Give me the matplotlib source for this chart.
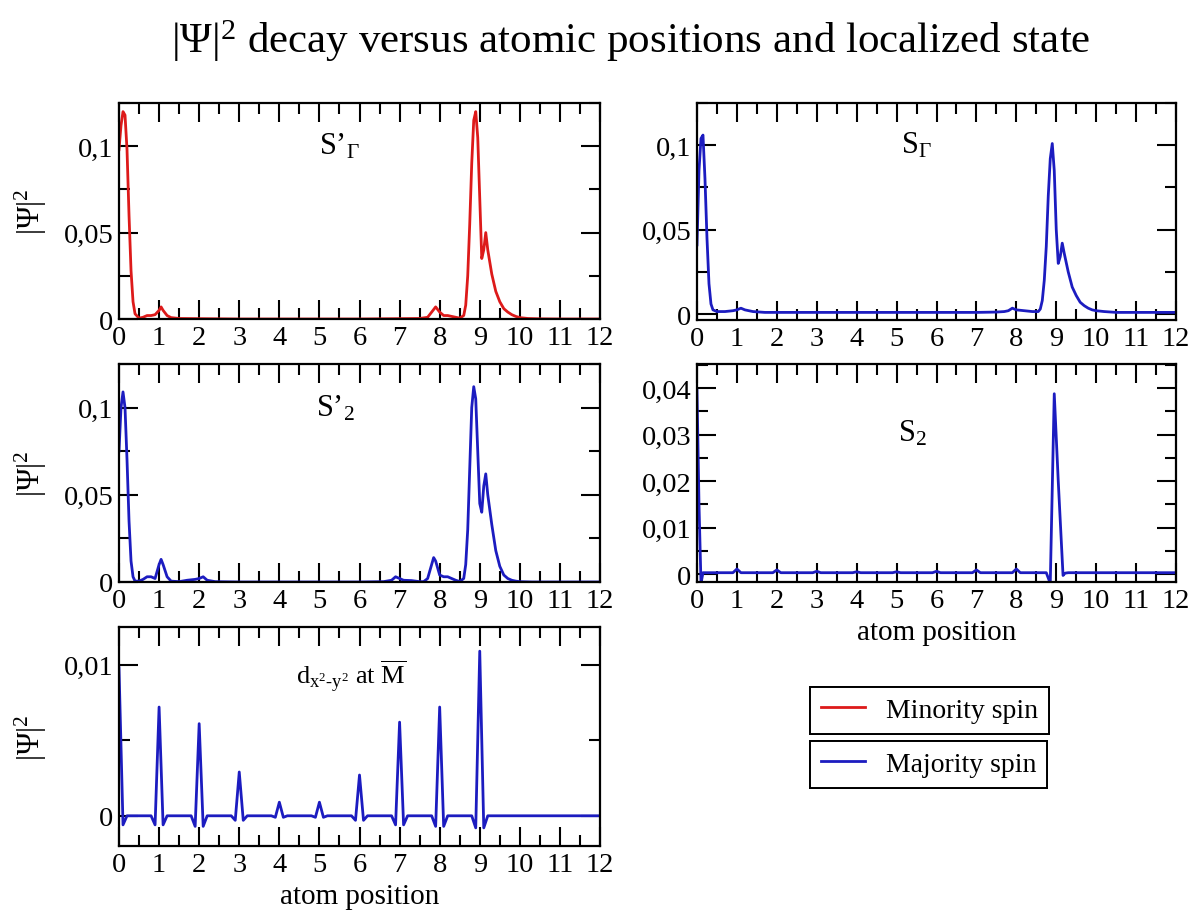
import matplotlib
matplotlib.use("Agg")
import matplotlib.pyplot as plt
from matplotlib.lines import Line2D
from matplotlib.ticker import MultipleLocator

# ---- data ----
# S'_Gamma, minority spin
xa = [0.0, 0.05, 0.1, 0.15, 0.2, 0.25, 0.3, 0.35, 0.4, 0.5, 0.6, 0.7, 0.8,
      0.9, 1.0, 1.05, 1.1, 1.2, 1.3, 1.5, 2.0, 3.0, 4.0, 5.0, 6.0, 7.0, 7.5,
      7.7, 7.8, 7.9, 8.0, 8.1, 8.2, 8.3, 8.4, 8.5, 8.6, 8.65, 8.7, 8.75, 8.8,
      8.85, 8.9, 8.95, 9.0, 9.05, 9.1, 9.15, 9.2, 9.3, 9.4, 9.5, 9.6, 9.7,
      9.8, 9.9, 10.0, 10.2, 10.5, 11.0, 12.0]
ya = [0.098, 0.112, 0.12, 0.118, 0.098, 0.06, 0.028, 0.01, 0.003, 0.0005,
      0.001, 0.002, 0.002, 0.0025, 0.005, 0.007, 0.005, 0.002, 0.0008, 0.0003,
      0.0002, 0.0, 0.0, 0.0, 0.0, 0.0002, 0.0003, 0.001, 0.004, 0.007, 0.004,
      0.002, 0.002, 0.0015, 0.001, 0.0005, 0.002, 0.008, 0.025, 0.055, 0.09,
      0.115, 0.12, 0.105, 0.07, 0.035, 0.04, 0.05, 0.04, 0.026, 0.016, 0.01,
      0.006, 0.004, 0.0025, 0.0015, 0.0008, 0.0003, 0.0001, 0.0, 0.0]

# S_Gamma, majority spin
xb = [0.0, 0.05, 0.1, 0.15, 0.2, 0.25, 0.3, 0.35, 0.4, 0.5, 0.7, 0.9, 1.0,
      1.1, 1.2, 1.4, 1.7, 2.0, 3.0, 4.0, 5.0, 6.0, 7.0, 7.5, 7.7, 7.8, 7.9,
      8.0, 8.2, 8.4, 8.55, 8.6, 8.65, 8.7, 8.75, 8.8, 8.85, 8.9, 8.95, 9.0,
      9.05, 9.1, 9.15, 9.2, 9.3, 9.4, 9.5, 9.6, 9.7, 9.8, 9.9, 10.0, 10.2,
      10.5, 11.0, 12.0]
yb = [0.041, 0.085, 0.104, 0.106, 0.08, 0.045, 0.018, 0.006, 0.0025, 0.0015,
      0.0015, 0.002, 0.0025, 0.0035, 0.0025, 0.0015, 0.001, 0.001, 0.001,
      0.001, 0.001, 0.001, 0.001, 0.0012, 0.0015, 0.002, 0.0035, 0.0025,
      0.002, 0.0015, 0.0015, 0.003, 0.008, 0.02, 0.04, 0.07, 0.092, 0.101,
      0.085, 0.05, 0.03, 0.034, 0.042, 0.036, 0.025, 0.016, 0.011, 0.007,
      0.005, 0.0035, 0.0025, 0.002, 0.0015, 0.001, 0.001, 0.001]

# S'_2, majority spin
xc = [0.0, 0.05, 0.1, 0.15, 0.2, 0.25, 0.3, 0.35, 0.4, 0.5, 0.6, 0.7, 0.8,
      0.9, 1.0, 1.05, 1.1, 1.2, 1.3, 1.5, 1.7, 1.9, 2.0, 2.1, 2.2, 2.4, 3.0,
      4.0, 5.0, 6.0, 6.6, 6.8, 6.9, 7.0, 7.1, 7.3, 7.5, 7.6, 7.7, 7.8, 7.85,
      7.9, 8.0, 8.1, 8.2, 8.3, 8.4, 8.5, 8.6, 8.65, 8.7, 8.75, 8.8, 8.85, 8.9,
      8.95, 9.0, 9.05, 9.1, 9.15, 9.2, 9.3, 9.4, 9.5, 9.6, 9.7, 9.8, 9.9,
      10.0, 10.3, 11.0, 12.0]
yc = [0.075, 0.1, 0.109, 0.1, 0.07, 0.035, 0.012, 0.003, 0.0005, 0.0005,
      0.0015, 0.003, 0.003, 0.002, 0.01, 0.013, 0.01, 0.003, 0.0005, 0.0002,
      0.001, 0.0015, 0.002, 0.003, 0.001, 0.0002, 0.0, 0.0, 0.0, 0.0, 0.0002,
      0.001, 0.003, 0.002, 0.001, 0.0008, 0.0002, 0.0002, 0.002, 0.01, 0.014,
      0.012, 0.004, 0.003, 0.003, 0.002, 0.001, 0.0003, 0.002, 0.01, 0.03,
      0.065, 0.1, 0.112, 0.105, 0.075, 0.045, 0.04, 0.055, 0.062, 0.05,
      0.033, 0.018, 0.009, 0.004, 0.002, 0.001, 0.0005, 0.0002, 0.0, 0.0, 0.0]

# S_2, majority spin
xd = [0.0, 0.05, 0.1, 0.15, 0.3, 0.9, 1.0, 1.1, 1.9, 2.0, 2.1, 2.9, 3.0, 3.1,
      3.9, 4.0, 4.1, 4.9, 5.0, 5.1, 5.9, 6.0, 6.1, 6.9, 7.0, 7.1, 7.9, 8.0,
      8.1, 8.75, 8.85, 8.95, 9.05, 9.17, 9.22, 9.3, 12.0]
yd = [0.0395, 0.015, -0.002, 0.0003, 0.0003, 0.0003, 0.0011, 0.0003, 0.0003,
      0.0009, 0.0003, 0.0003, 0.0006, 0.0003, 0.0003, 0.0005, 0.0003, 0.0003,
      0.0005, 0.0003, 0.0003, 0.0006, 0.0003, 0.0003, 0.0009, 0.0003, 0.0003,
      0.0011, 0.0003, 0.0003, -0.002, 0.0388, 0.02, -0.0003, 0.0002, 0.0003,
      0.0003]

# d_{x2-y2} at M, majority spin
xe = [0.0, 0.1, 0.2, 0.8, 0.9, 1.0, 1.1, 1.2, 1.8, 1.9, 2.0, 2.1, 2.2, 2.8,
      2.9, 3.0, 3.1, 3.2, 3.8, 3.9, 4.0, 4.1, 4.2, 4.8, 4.9, 5.0, 5.1, 5.2,
      5.8, 5.9, 6.0, 6.1, 6.2, 6.8, 6.9, 7.0, 7.1, 7.2, 7.8, 7.9, 8.0, 8.1,
      8.2, 8.8, 8.9, 9.0, 9.1, 9.2, 12.0]
ye = [0.0098, -0.0006, 0.0, 0.0, -0.0006, 0.0072, -0.0006, 0.0, 0.0, -0.0007,
      0.0061, -0.0007, 0.0, 0.0, -0.0003, 0.0029, -0.0003, 0.0, 0.0, -0.0001,
      0.0009, -0.0001, 0.0, 0.0, -0.0001, 0.0009, -0.0001, 0.0, 0.0, -0.0003,
      0.0027, -0.0003, 0.0, 0.0, -0.0006, 0.0062, -0.0006, 0.0, 0.0, -0.0007,
      0.0072, -0.0007, 0.0, 0.0, -0.0008, 0.0109, -0.0008, 0.0, 0.0]

x_ticks = list(range(0, 13))
yt_big = [0, 0.05, 0.1]
yt_big_labels = ["0", "0,05", "0,1"]
yt_s2 = [0, 0.01, 0.02, 0.03, 0.04]
yt_s2_labels = ["0", "0,01", "0,02", "0,03", "0,04"]
yt_d = [0, 0.01]
yt_d_labels = ["0", "0,01"]

RED = "#dd1a1a"
BLUE = "#1c1cc0"

plt.rcParams['font.family'] = ['Liberation Serif', 'DejaVu Serif']
plt.rcParams['mathtext.fontset'] = 'custom'
plt.rcParams['mathtext.rm'] = 'Liberation Serif'
plt.rcParams['mathtext.it'] = 'Liberation Serif:italic'
plt.rcParams['mathtext.bf'] = 'Liberation Serif:bold'


def style(ax, yticks, ylabels, ylim, yminor):
    ax.set_xlim(0, 12)
    ax.set_ylim(*ylim)
    ax.set_xticks(x_ticks)
    ax.set_xticklabels([str(t) for t in x_ticks])
    ax.xaxis.set_minor_locator(MultipleLocator(0.5))
    ax.set_yticks(yticks)
    ax.set_yticklabels(ylabels)
    ax.yaxis.set_minor_locator(MultipleLocator(yminor))
    ax.tick_params(which='both', direction='in', top=True, right=True,
                   width=1.5, labelsize=20.5, pad=4)
    ax.tick_params(which='major', length=14)
    ax.tick_params(which='minor', length=8)
    for s in ax.spines.values():
        s.set_linewidth(1.6)


fig = plt.figure(figsize=(12.03, 9.2), dpi=100)
W, H = 1203.0, 920.0


def box(x0, y0, x1, y1):
    return fig.add_axes([x0 / W, 1 - y1 / H, (x1 - x0) / W, (y1 - y0) / H])


ax1 = box(119, 104, 600, 320)
ax2 = box(697, 104, 1176, 321)
ax3 = box(119, 365, 600, 583)
ax4 = box(697, 365, 1176, 583)
ax5 = box(119, 628, 600, 847)

ax1.plot(xa, ya, color=RED, lw=2)
ax2.plot(xb, yb, color=BLUE, lw=2)
ax3.plot(xc, yc, color=BLUE, lw=2)
ax4.plot(xd, yd, color=BLUE, lw=2)
ax5.plot(xe, ye, color=BLUE, lw=2)

style(ax1, yt_big, yt_big_labels, (0, 0.125), 0.025)
style(ax2, yt_big, yt_big_labels, (-0.0035, 0.125), 0.025)
style(ax3, yt_big, yt_big_labels, (0, 0.125), 0.025)
style(ax4, yt_s2, yt_s2_labels, (-0.0017, 0.0452), 0.005)
style(ax5, yt_d, yt_d_labels, (-0.002, 0.0125), 0.005)

for ax in (ax1, ax3, ax5):
    ax.set_ylabel(r"|Ψ|$^2$", fontsize=22)
    ax.yaxis.set_label_coords(-0.145, 0.5)

for ax in (ax4, ax5):
    ax.set_xlabel("atom position", fontsize=21, labelpad=5)

ax1.text(5.5, 0.1, r"S’$_\Gamma$", fontsize=22, ha='center', va='center')
ax2.text(5.5, 0.1, r"S$_\Gamma$", fontsize=22, ha='center', va='center')
ax3.text(5.4, 0.1, r"S’$_2$", fontsize=22, ha='center', va='center')
ax4.text(5.4, 0.0305, r"S$_2$", fontsize=22, ha='center', va='center')
ax5.text(5.8, 0.0093,
         r"d$_{\mathrm{x}^{2}\mathrm{\text{-}y}^{2}}$ at $\overline{\mathrm{M}}$",
         fontsize=19, ha='center', va='center')

fig.text(0.524, 0.955, r"|Ψ|$^2$ decay versus atomic positions and localized state",
         fontsize=31, ha='center', va='center')

for i, (lab, col) in enumerate([("Minority spin", RED), ("Majority spin", BLUE)]):
    top = 688 if i == 0 else 742
    leg = fig.legend(handles=[Line2D([], [], color=col, lw=2)], labels=[lab],
                     loc='upper left', bbox_to_anchor=(810 / W, 1 - top / H),
                     borderaxespad=0, fancybox=False, framealpha=1,
                     edgecolor='black', fontsize=20, handlelength=1.6,
                     handletextpad=0.75, borderpad=0.38)
    leg.get_frame().set_linewidth(1.4)
    fig.add_artist(leg)

fig.savefig("out.png", dpi=100)
